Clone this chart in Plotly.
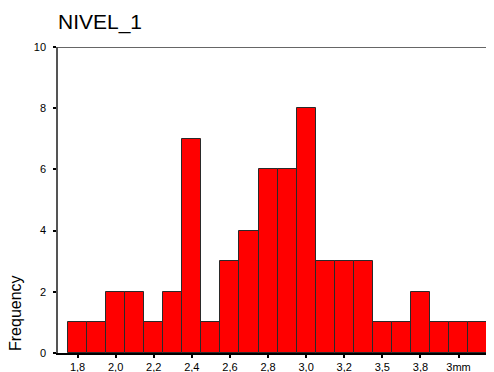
import plotly.graph_objects as go

# Data
bin_index = list(range(22))
frequencies = [1, 1, 2, 2, 1, 2, 7, 1, 3, 4, 6, 6, 8, 3, 3, 3, 1, 1, 2, 1, 1, 1]
tick_positions = [0, 2, 4, 6, 8, 10, 12, 14, 16, 18, 20]
tick_labels = ["1,8", "2,0", "2,2", "2,4", "2,6", "2,8", "3,0", "3,2", "3,5", "3,8", "3mm"]
y_ticks = [0, 2, 4, 6, 8, 10]

font_family = "Liberation Sans, Arial, sans-serif"

# The page body adds an 8px margin, so the figure is 8px smaller each way.
W, H = 486, 364
ML, MR, MT, MB = 50, 1, 39, 19
PW = W - ML - MR
PH = H - MT - MB

fig = go.Figure()
fig.add_trace(go.Bar(
    x=bin_index,
    y=frequencies,
    marker=dict(color="#FF0000", line=dict(color="#2a2a2a", width=1)),
    width=1.0,
    hoverinfo="x+y",
))

fig.update_layout(
    width=W,
    height=H,
    margin=dict(l=ML, r=MR, t=MT, b=MB, autoexpand=False),
    paper_bgcolor="white",
    plot_bgcolor="white",
    showlegend=False,
    bargap=0,
    font=dict(family=font_family, size=11, color="black"),
    title=dict(
        text="NIVEL_1",
        x=50 / W,
        xanchor="left",
        y=1 - 14 / H,
        yanchor="middle",
        font=dict(family=font_family, size=21, color="black"),
    ),
    xaxis=dict(
        automargin=False,
        range=[-1.025, 21.81],
        tickmode="array",
        tickvals=tick_positions,
        ticktext=tick_labels,
        ticks="outside",
        ticklen=3,
        tickwidth=2,
        tickcolor="black",
        showline=True,
        linecolor="black",
        linewidth=1.5,
        showgrid=False,
        zeroline=False,
        tickfont=dict(family=font_family, size=11, color="black"),
    ),
    yaxis=dict(
        automargin=False,
        range=[0, 10],
        tickmode="array",
        tickvals=y_ticks,
        ticks="outside",
        ticklen=3,
        tickwidth=2,
        tickcolor="black",
        ticklabelstandoff=5,
        showline=True,
        linecolor="#555555",
        linewidth=1.5,
        showgrid=False,
        zeroline=False,
        tickfont=dict(family=font_family, size=11, color="black"),
    ),
    shapes=[dict(
        type="line", xref="paper", yref="y",
        x0=0, x1=1, y0=10, y1=10,
        line=dict(color="#666666", width=2),
    )],
    annotations=[dict(
        text="Frequency",
        xref="paper", yref="paper",
        x=(7 - ML) / PW, y=0,
        xanchor="center", yanchor="bottom",
        textangle=-90,
        showarrow=False,
        font=dict(family=font_family, size=16, color="black"),
    )],
)

fig.write_html("out.html")
